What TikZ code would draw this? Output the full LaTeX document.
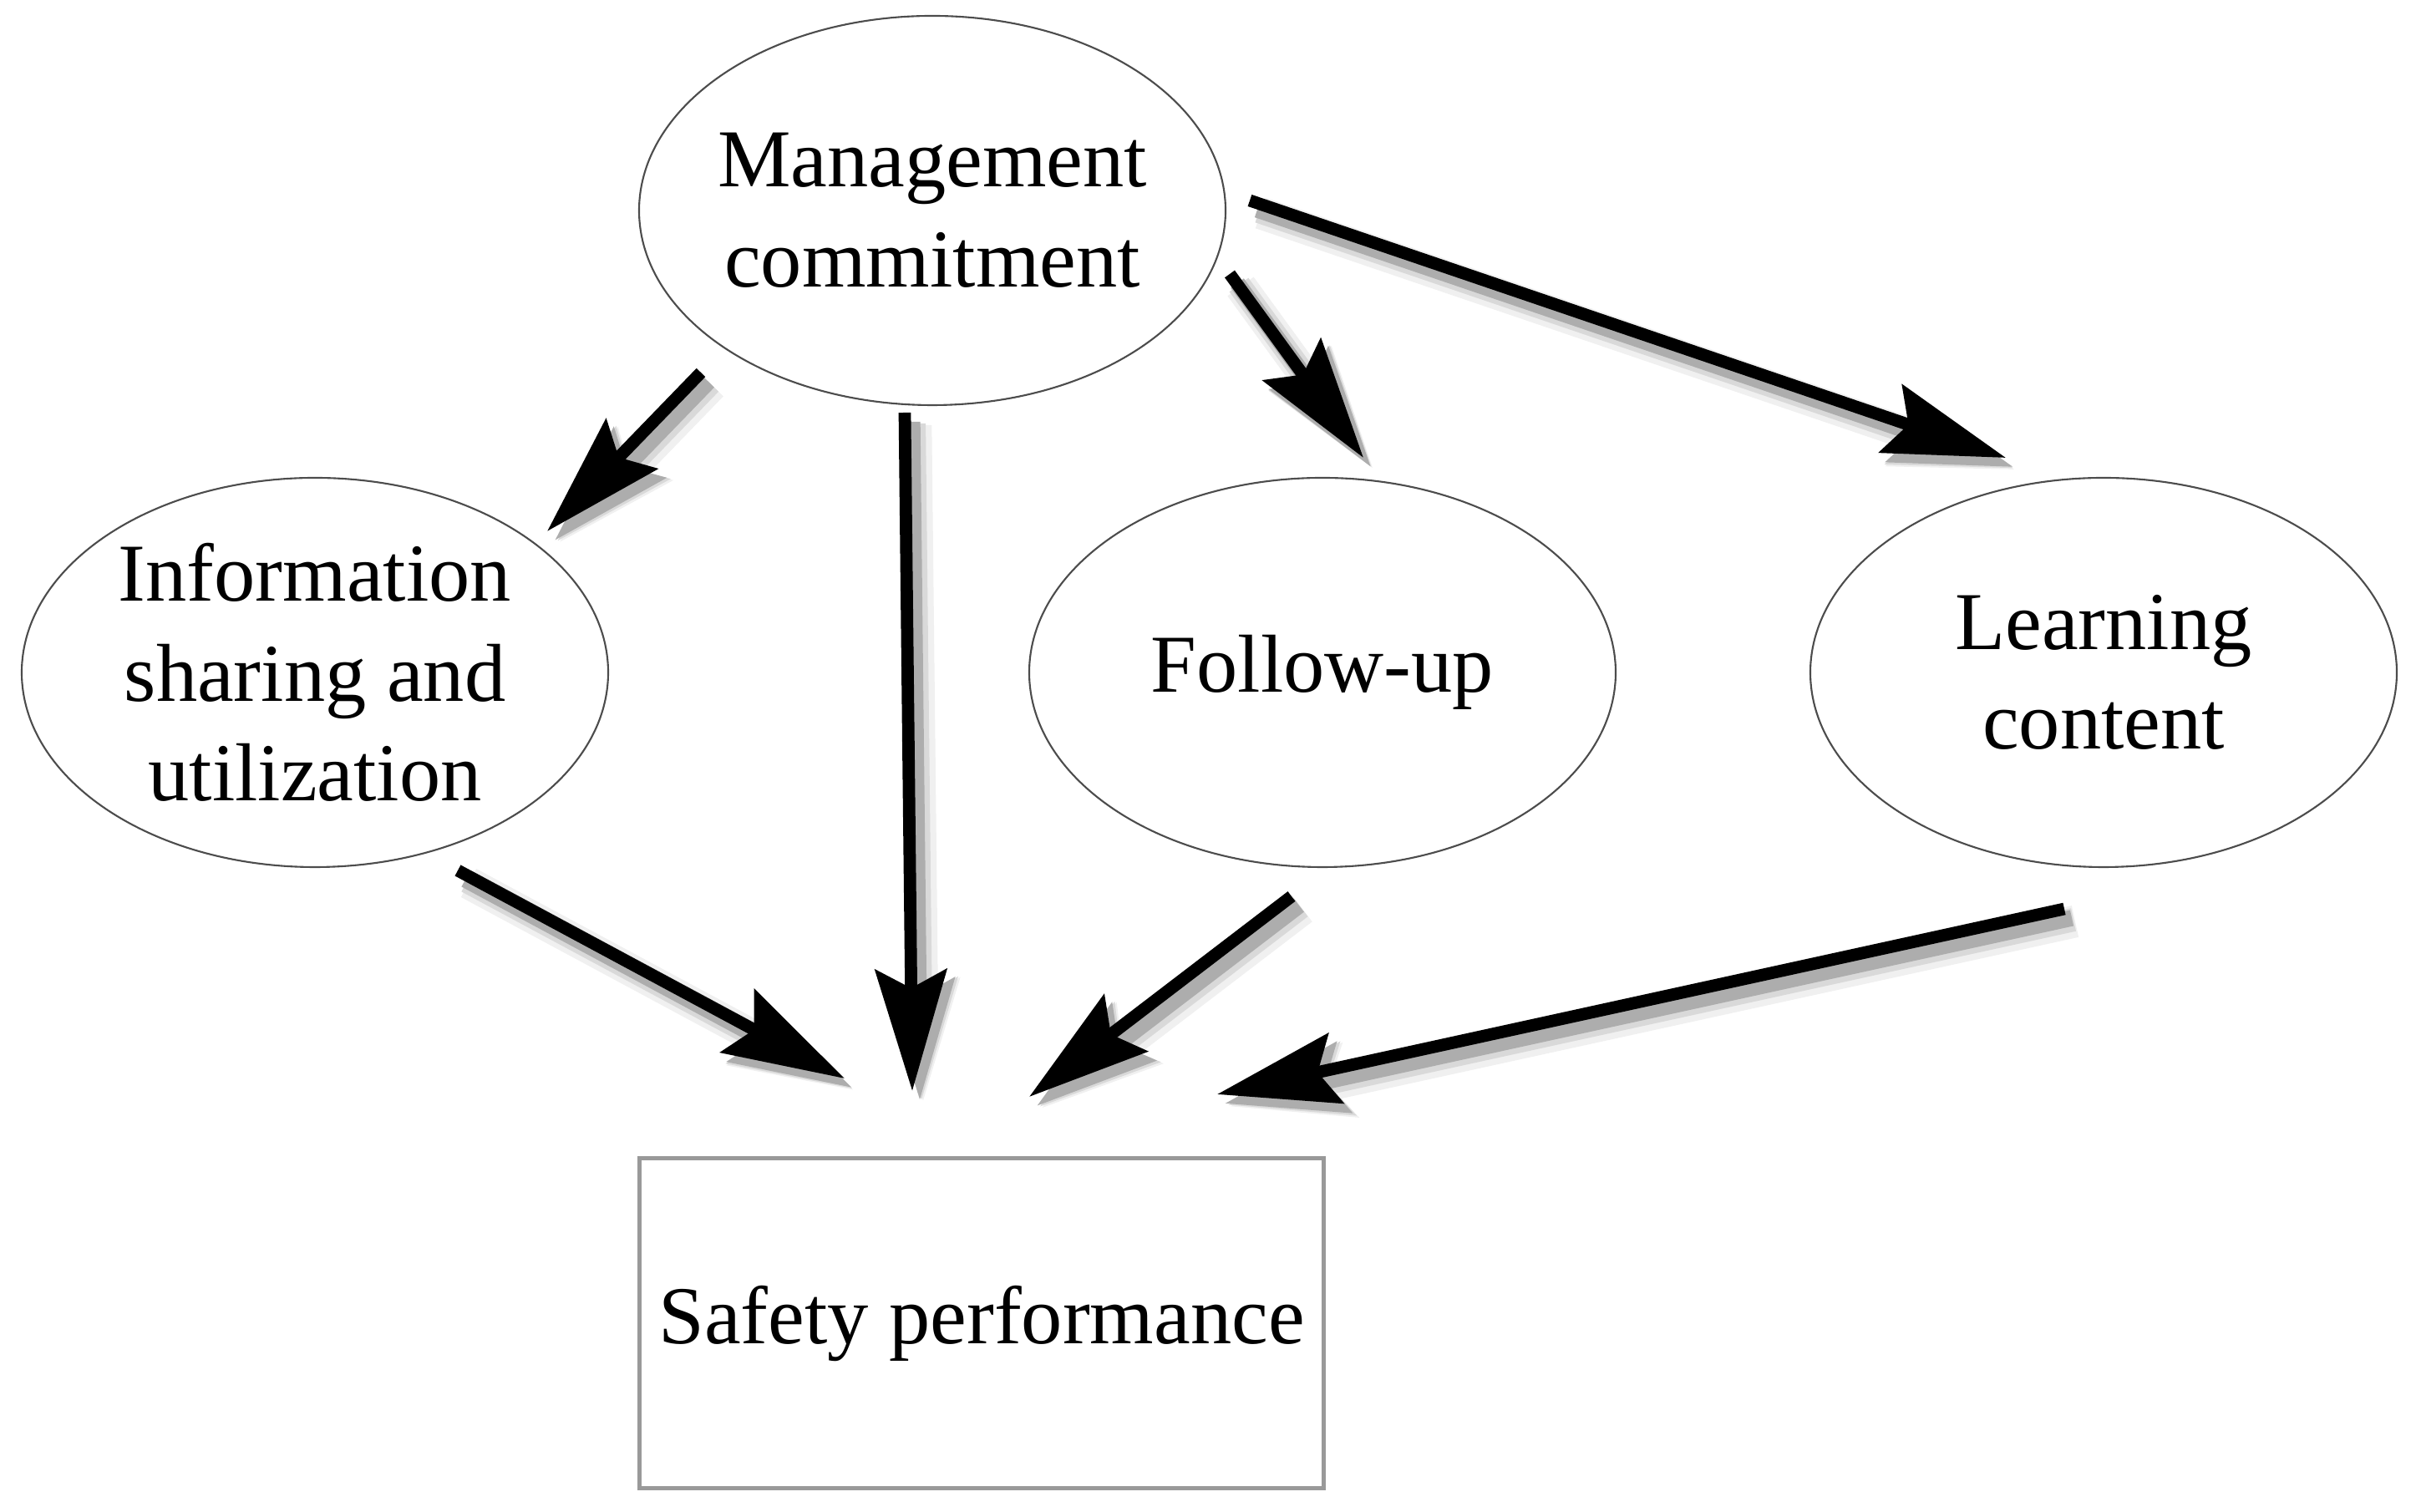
\documentclass[tikz,border=0pt]{standalone}
\usepackage{fontspec}
\setmainfont{Liberation Serif}
\usepackage{tikz}
\usetikzlibrary{shapes.geometric,arrows.meta}

\begin{document}
\begin{tikzpicture}[
        factor/.style={draw=black!70, line width=0.6pt, ellipse, minimum width=7.02cm, minimum height=4.66cm, inner xsep=-0.3cm, inner ysep=0pt, align=center, font=\fontsize{28}{34}\selectfont},
        outcome/.style={draw=black!40, line width=1.2pt, rectangle, minimum width=8.19cm, minimum height=3.95cm, align=center, font=\fontsize{28}{34}\selectfont},
        link/.style={line width=4.2pt, -{Stealth[length=1.45cm, width=0.85cm, inset=0.22cm]},
            preaction={draw=black!6, line width=11pt, transform canvas={shift={(0.13,-0.15)}}},
            preaction={draw=black!15, line width=8pt, transform canvas={shift={(0.11,-0.13)}}},
            preaction={draw=black!32, line width=5.5pt, transform canvas={shift={(0.09,-0.11)}}}}
    ]
        \useasboundingbox (0,0) rectangle (28.92,18.10);

        % Factors
        \node[factor] (mgmt) at (11.16,15.58) {Management\\commitment};
        \node[factor] (info) at (3.77,10.05) {Information\\sharing and\\utilization};
        \node[factor] (follow) at (15.83,10.05) {Follow-up};
        \node[factor] (learn) at (25.18,10.05) {Learning\\content};

        % Outcome
        \node[outcome] (safety) at (11.75,2.26) {Safety performance};

        % Arrow ends
        \coordinate (mi) at (8.39,13.64);
        \coordinate (ie) at (6.55,11.74);
        \coordinate (ms) at (10.83,13.16);
        \coordinate (se1) at (10.92,5.04);
        \coordinate (mf) at (14.72,14.82);
        \coordinate (fe) at (16.32,12.62);
        \coordinate (ml) at (14.96,15.70);
        \coordinate (le) at (24.01,12.62);
        \coordinate (is) at (5.48,7.68);
        \coordinate (se0) at (10.11,5.19);
        \coordinate (fs) at (15.46,7.37);
        \coordinate (se2) at (12.32,4.97);
        \coordinate (ls) at (24.71,7.22);
        \coordinate (se3) at (14.57,5.00);

        % Arrows
        \draw[link] (mi) -- (ie);
        \draw[link] (ms) -- (se1);
        \draw[link] (mf) -- (fe);
        \draw[link] (ml) -- (le);
        \draw[link] (is) -- (se0);
        \draw[link] (fs) -- (se2);
        \draw[link] (ls) -- (se3);
    \end{tikzpicture}
\end{document}
